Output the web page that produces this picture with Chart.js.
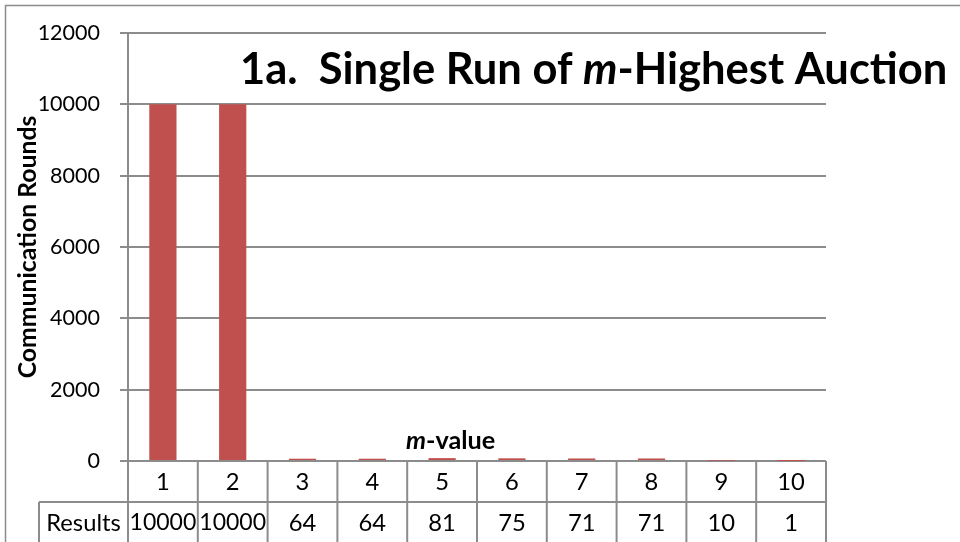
<!DOCTYPE html>
<html>
<head>
<meta charset="utf-8">
<title>Single Run of m-Highest Auction</title>
<script src="https://cdn.jsdelivr.net/npm/chart.js@4/dist/chart.umd.min.js"></script>
<style>
    html, body { margin: 0; padding: 0; background: #ffffff; }
    canvas { display: block; }
</style>
</head>
<body>
<canvas id="auctionChart" width="960" height="542"></canvas>
<script>
    'use strict';

    // m-values and the communication rounds each run took
    var mValues = ['1', '2', '3', '4', '5', '6', '7', '8', '9', '10'];
    var results = [10000, 10000, 64, 64, 81, 75, 71, 71, 10, 1];
    var seriesName = 'Results';
    var yTicks = [0, 2000, 4000, 6000, 8000, 10000, 12000];

    var FONT = 'Lato, "Open Sans", sans-serif';
    var GRID = '#8c8c8c';
    var BAR = '#c0504d';

    var measureCtx = document.createElement('canvas').getContext('2d');

    function runsWidth(ctx, runs, size) {
        var w = 0;
        runs.forEach(function(run) {
            ctx.font = run.style + ' ' + size + 'px ' + FONT;
            w += ctx.measureText(run.text).width;
        });
        return w;
    }

    // Largest font size at which the runs fit into the given width
    function fitSize(runs, width) {
        var size = 60;
        while (runsWidth(measureCtx, runs, size) > width && size > 8) {
            size -= 0.25;
        }
        return size;
    }

    // Draws the text segments in a row, each with its own style
    function drawRuns(ctx, runs, x, y, size) {
        runs.forEach(function(run) {
            ctx.font = run.style + ' ' + size + 'px ' + FONT;
            ctx.fillText(run.text, x, y);
            x += ctx.measureText(run.text).width;
        });
    }

    var tickSize = fitSize([{ text: '12000', style: 'normal' }], 63);
    var tableSize = fitSize([{ text: seriesName, style: 'normal' }], 75);

    var titleRuns = [
        { text: '1a.  Single Run of ', style: 'bold' },
        { text: 'm', style: 'italic bold' },
        { text: '-Highest Auction', style: 'bold' }
    ];
    var xTitleRuns = [
        { text: 'm', style: 'italic bold' },
        { text: '-value', style: 'bold' }
    ];
    var yTitleRuns = [{ text: 'Communication Rounds', style: 'bold' }];

    var titleSize = fitSize(titleRuns, 708);
    var xTitleSize = fitSize(xTitleRuns, 90);
    var yTitleSize = fitSize(yTitleRuns, 264);

    var decorations = {
        id: 'decorations',
        beforeDraw: function(chart) {
            var ctx = chart.ctx;
            ctx.save();
            ctx.fillStyle = '#ffffff';
            ctx.fillRect(0, 0, chart.width, chart.height);
            // outer chart frame (runs off the right and bottom)
            ctx.strokeStyle = GRID;
            ctx.lineWidth = 1.5;
            ctx.beginPath();
            ctx.moveTo(5.5, chart.height + 2);
            ctx.lineTo(5.5, 5.5);
            ctx.lineTo(chart.width + 2, 5.5);
            ctx.stroke();
            ctx.restore();
        },
        afterDraw: function(chart) {
            var ctx = chart.ctx;
            var area = chart.chartArea;
            var x = chart.scales.x;
            var half = (x.right - x.left) / mValues.length / 2;
            var rowMid = area.bottom + 41;
            var rowEnd = chart.height + 2;
            var labelLeft = 39;

            ctx.save();
            ctx.strokeStyle = GRID;
            ctx.lineWidth = 2;

            // data table grid
            ctx.beginPath();
            mValues.forEach(function(v, i) {
                var edge = x.getPixelForValue(i) - half;
                ctx.moveTo(edge, area.bottom);
                ctx.lineTo(edge, rowEnd);
            });
            ctx.moveTo(x.right, area.bottom);
            ctx.lineTo(x.right, rowEnd);
            ctx.moveTo(labelLeft, rowMid);
            ctx.lineTo(x.right, rowMid);
            ctx.moveTo(labelLeft, rowMid);
            ctx.lineTo(labelLeft, rowEnd);
            ctx.stroke();

            // table text
            ctx.fillStyle = '#000000';
            ctx.textBaseline = 'middle';
            ctx.textAlign = 'center';
            mValues.forEach(function(v, i) {
                var cx = x.getPixelForValue(i);
                ctx.font = tableSize + 'px ' + FONT;
                ctx.fillText(v, cx, area.bottom + 21);
                var txt = String(results[i]);
                var fs = tableSize;
                ctx.font = fs + 'px ' + FONT;
                while (ctx.measureText(txt).width > half * 2 - 3 && fs > 10) {
                    fs -= 0.25;
                    ctx.font = fs + 'px ' + FONT;
                }
                ctx.fillText(txt, cx, rowMid + 21);
            });
            ctx.font = tableSize + 'px ' + FONT;
            ctx.fillText(seriesName, (labelLeft + area.left) / 2, rowMid + 21);

            // x-axis title inside the plot
            ctx.textAlign = 'left';
            drawRuns(ctx, xTitleRuns, 406, 441, xTitleSize);

            // y-axis title
            ctx.save();
            ctx.translate(28, (area.top + area.bottom) / 2);
            ctx.rotate(-Math.PI / 2);
            ctx.textAlign = 'center';
            ctx.font = 'bold ' + yTitleSize + 'px ' + FONT;
            ctx.fillText(yTitleRuns[0].text, 0, 0);
            ctx.restore();

            // chart title
            ctx.textAlign = 'left';
            ctx.textBaseline = 'alphabetic';
            drawRuns(ctx, titleRuns, 240, 84, titleSize);

            ctx.restore();
        }
    };

    new Chart(document.getElementById('auctionChart'), {
        type: 'bar',
        data: {
            labels: mValues,
            datasets: [{
                label: seriesName,
                data: results,
                backgroundColor: BAR,
                borderWidth: 0,
                categoryPercentage: 1,
                barPercentage: 0.39
            }]
        },
        options: {
            responsive: false,
            animation: false,
            layout: {
                padding: { left: 0, top: 25, right: 134, bottom: 0 }
            },
            plugins: {
                legend: { display: false },
                tooltip: { enabled: false }
            },
            scales: {
                x: {
                    grid: { display: false },
                    border: { display: false },
                    ticks: { display: false },
                    afterFit: function(scale) {
                        scale.height = 81;
                    }
                },
                y: {
                    min: yTicks[0],
                    max: yTicks[yTicks.length - 1],
                    afterBuildTicks: function(scale) {
                        scale.ticks = yTicks.map(function(v) {
                            return { value: v };
                        });
                    },
                    ticks: {
                        color: '#000000',
                        padding: 20,
                        font: { family: FONT, size: tickSize },
                        callback: function(value) {
                            return String(value);
                        }
                    },
                    grid: {
                        color: GRID,
                        lineWidth: 2,
                        tickLength: 8
                    },
                    border: { color: GRID, width: 2 },
                    afterFit: function(scale) {
                        scale.width = 128;
                    }
                }
            }
        },
        plugins: [decorations]
    });
</script>
</body>
</html>
